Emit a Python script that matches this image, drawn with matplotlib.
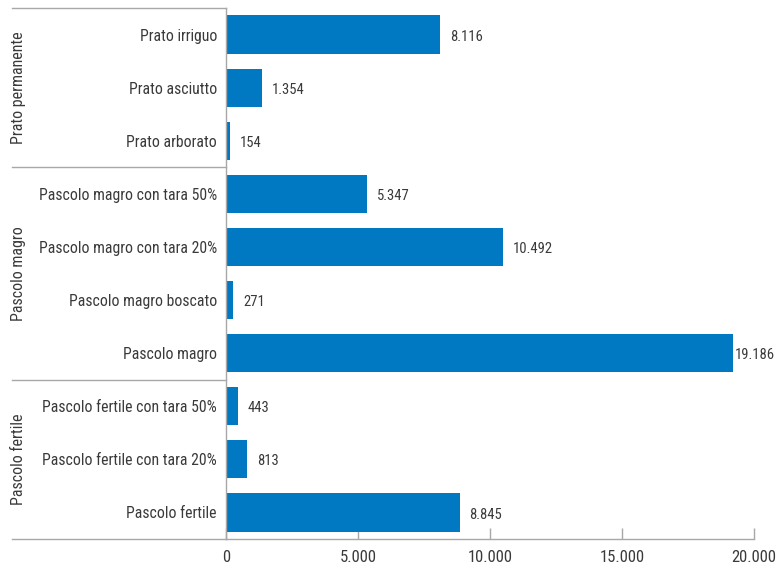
import matplotlib
matplotlib.use("Agg")
import matplotlib.pyplot as plt
from matplotlib import font_manager
from matplotlib.transforms import blended_transform_factory

# Categories (top to bottom) and values in hectares
categories = [
    "Prato irriguo", "Prato asciutto", "Prato arborato",
    "Pascolo magro con tara 50%", "Pascolo magro con tara 20%",
    "Pascolo magro boscato", "Pascolo magro",
    "Pascolo fertile con tara 50%", "Pascolo fertile con tara 20%",
    "Pascolo fertile",
]
values = [8116, 1354, 154, 5347, 10492, 271, 19186, 443, 813, 8845]

# Group names and how many categories each contains
groups = ["Prato permanente", "Pascolo magro", "Pascolo fertile"]
group_sizes = [3, 4, 3]

xticks = [0, 5000, 10000, 15000, 20000]

names = {f.name for f in font_manager.fontManager.ttflist}
preferred = ["Roboto Condensed", "Liberation Sans Narrow", "Asap Condensed",
             "Encode Sans Condensed", "Barlow Condensed", "PT Sans Narrow",
             "Archivo Narrow", "DejaVu Sans"]
family = next(f for f in preferred if f in names)
plt.rcParams["font.family"] = [family, "DejaVu Sans"]

text_color = "#3a3a3a"
line_color = "#a8a8a8"
bar_color = "#0079c2"

def fmt(v):
    return f"{v:,}".replace(",", ".")

W, H = 778, 569
ax_left, ax_right, ax_top, ax_bottom = 226, 754, 8, 539

fig = plt.figure(figsize=(W / 100, H / 100), dpi=100)
ax = fig.add_axes([ax_left / W, 1 - ax_bottom / H,
                   (ax_right - ax_left) / W, (ax_bottom - ax_top) / H])

n = len(categories)
ypos = list(range(n))
ax.barh(ypos, values, height=0.72, color=bar_color, zorder=2)
ax.set_ylim(n - 0.5, -0.5)
ax.set_xlim(xticks[0], xticks[-1])

ax.set_yticks(ypos)
ax.set_yticklabels(categories, fontsize=11.3, color=text_color)
ax.tick_params(axis="y", length=0, pad=6.5)

ax.set_xticks(xticks)
ax.set_xticklabels([fmt(t) for t in xticks], fontsize=12, color=text_color)
ax.tick_params(axis="x", direction="in", length=8, color=line_color, width=1, pad=8)

for s in ["top", "right"]:
    ax.spines[s].set_visible(False)
for s in ["left", "bottom"]:
    ax.spines[s].set_color(line_color)
    ax.spines[s].set_linewidth(1)

# Value labels next to each bar; the longest bar keeps its label close
for y, v in zip(ypos, values):
    dx = 1.5 if v > 0.95 * xticks[-1] else 7
    ax.annotate(fmt(v), (v, y), xytext=(dx, -1.5), textcoords="offset points",
                va="center", ha="left", fontsize=10.5, color=text_color)

# Group separators and rotated group names
span = ax_right - ax_left
trans = blended_transform_factory(ax.transAxes, ax.transData)
x_left = (12 - ax_left) / span
start = 0
ax.plot([x_left, 0], [-0.5, -0.5], transform=trans, color=line_color,
        lw=1, clip_on=False)
for g, size in zip(groups, group_sizes):
    end = start + size
    ax.plot([x_left, 0], [end - 0.5, end - 0.5], transform=trans,
            color=line_color, lw=1, clip_on=False)
    mid = (start + end - 1) / 2
    ax.text((19 - ax_left) / span, mid, g, transform=trans, rotation=90,
            ha="center", va="center", fontsize=11.5, color=text_color)
    start = end

fig.savefig("out.png", dpi=100)
